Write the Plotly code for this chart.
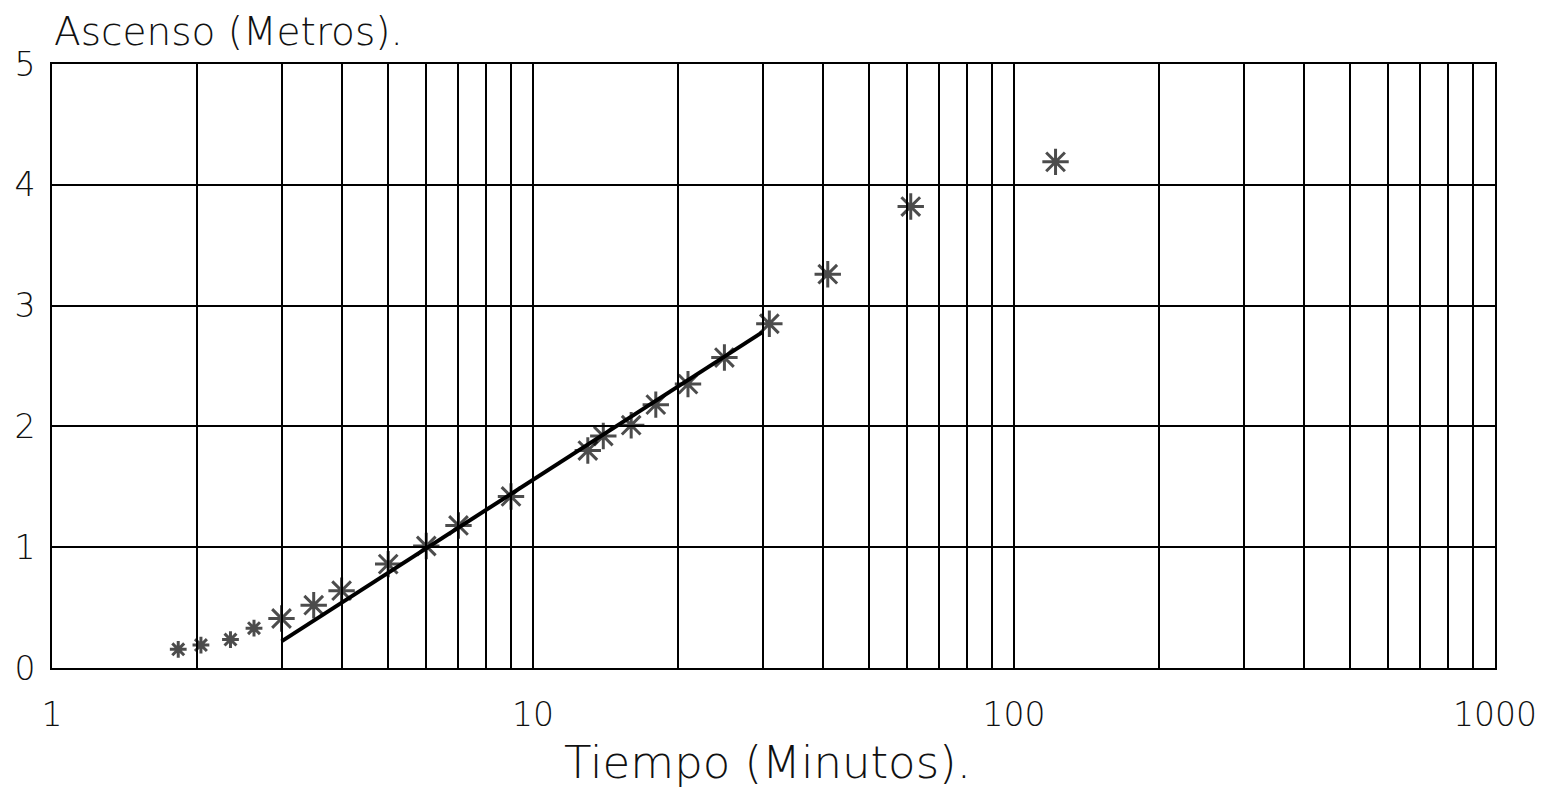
import plotly.graph_objects as go

# Data
tiempo = [1.83, 2.04, 2.35, 2.63, 3.0, 3.5, 4.0, 5.0, 6.0, 7.0, 9.0, 13, 14, 16, 18, 21, 25, 31, 41, 61, 122]
ascenso = [0.155, 0.19, 0.235, 0.33, 0.41, 0.52, 0.64, 0.86, 1.01, 1.18, 1.42, 1.80, 1.92, 2.01, 2.18, 2.35, 2.57, 2.85, 3.26, 3.82, 4.19]
recta_t = [3, 30]
recta_s = [0.22, 2.78]
x_ticks = [1, 10, 100, 1000]
y_ticks = [0, 1, 2, 3, 4, 5]

FONT = "DejaVu Sans"
WEIGHT = 200

grid_vals = [m * 10 ** k for k in range(3) for m in range(1, 10)] + [1000]
grid_text = [str(v) if v in x_ticks else "" for v in grid_vals]

sizes = [14 if t < 3 else 22 for t in tiempo]

fig = go.Figure()
fig.add_trace(go.Scatter(
    x=recta_t, y=recta_s, mode="lines",
    line=dict(color="black", width=4), showlegend=False,
))
fig.add_trace(go.Scatter(
    x=tiempo, y=ascenso, mode="markers",
    marker=dict(symbol="asterisk-open", size=sizes, color="black",
                line=dict(color="black", width=3)),
    showlegend=False,
))

tick_font = dict(family=FONT, size=33, color="#111", weight=WEIGHT)

fig.update_layout(
    width=1532, height=780,
    margin=dict(l=44, r=45, t=56, b=120, autoexpand=False),
    paper_bgcolor="white", plot_bgcolor="white",
    font=dict(family=FONT, color="black", size=30),
    xaxis=dict(
        type="log", range=[0, 3], automargin=False,
        tickmode="array", tickvals=grid_vals, ticktext=grid_text,
        showgrid=True, gridcolor="black", gridwidth=2,
        showline=True, linecolor="black", linewidth=2, mirror=True,
        ticks="", ticklabelstandoff=16,
        tickfont=tick_font,
        zeroline=False,
    ),
    yaxis=dict(
        range=[0, 5], automargin=False,
        tickmode="array", tickvals=y_ticks,
        showgrid=True, gridcolor="black", gridwidth=2,
        showline=True, linecolor="black", linewidth=2, mirror=True,
        ticks="", ticklabelstandoff=8,
        tickfont=tick_font,
        zeroline=False,
    ),
    annotations=[
        dict(text="Ascenso (Metros).", xref="paper", yref="paper",
             x=0, y=1, xanchor="left", yanchor="bottom", yshift=8,
             showarrow=False,
             font=dict(family=FONT, size=39, color="#111", weight=WEIGHT)),
        dict(text="Tiempo (Minutos).", xref="paper", yref="paper",
             x=0.4955, y=0, xanchor="center", yanchor="top", yshift=-66,
             showarrow=False,
             font=dict(family=FONT, size=45, color="#111", weight=WEIGHT)),
    ],
)

fig.write_html("out.html")
